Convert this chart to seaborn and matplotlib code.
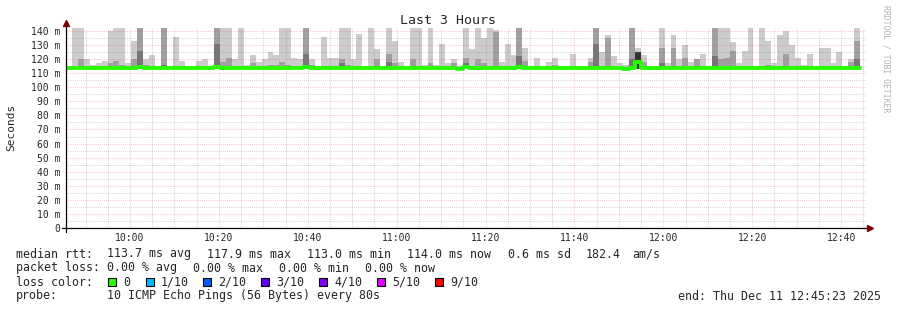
import numpy as np
import pandas as pd
import matplotlib
matplotlib.use("Agg")
import matplotlib.pyplot as plt
import seaborn as sns
from matplotlib.patches import Rectangle

sns.set_style("white")
plt.rcParams['font.family'] = ['DejaVu Sans Mono', 'DejaVu Sans']

W, H = 897, 310

# ---- data -------------------------------------------------------------
first_bucket_min = 45.62      # minutes after 09:00 of first 80 s bucket
step_min = 80 / 60            # 80 s probe interval
smoke_base = 113.0            # lowest ping (ms)

# lightest smoke (max ping, ms)
smoke_max = [115, 142, 142, 120, 116, 117, 119, 140, 142, 142,
             117, 133, 142, 120, 123, 115, 142, 115, 136, 119,
             115, 115, 119, 120, 115, 142, 142, 142, 120, 142,
             116, 123, 118, 120, 125, 123, 142, 142, 121, 120,
             142, 120, 115, 136, 121, 121, 142, 142, 120, 138,
             115, 142, 127, 115, 142, 133, 118, 115, 142, 142,
             116, 142, 116, 131, 117, 120, 115, 142, 127, 142,
             135, 142, 141, 118, 131, 123, 142, 128, 115, 121,
             115, 118, 121, 115, 115, 124, 115, 115, 121, 142,
             125, 137, 122, 117, 116, 142, 128, 123, 115, 115,
             142, 117, 137, 120, 130, 118, 120, 124, 115, 142,
             142, 142, 132, 117, 126, 142, 115, 142, 133, 117,
             137, 140, 130, 121, 116, 124, 115, 128, 128, 117,
             125, 115, 120, 142]

# middle smoke (ms), None = no visible band
N = None
smoke_mid = [N, N, 120, N, N, N, N, 117, 119, 116,
             N, 120, 142, 116, N, N, 142, N, N, N,
             N, N, N, N, N, 142, 118, 121, N, N,
             N, 117, N, N, 116, 116, 118, 116, N, N,
             142, 116, N, N, N, N, 120, 116, N, N,
             N, N, 120, N, 124, 117, N, N, 120, N,
             N, 117, N, N, N, 117, N, 121, N, 120,
             117, N, 139, N, N, N, 142, 119, N, N,
             N, N, 116, N, N, N, N, N, 118, 142,
             N, 135, N, N, N, 142, 125, 118, N, N,
             128, N, 128, N, 121, N, 120, N, N, 142,
             120, 121, 126, N, N, N, N, N, 116, N,
             N, 124, N, N, N, N, N, N, N, N,
             N, N, 118, 133]

# dark smoke core (ms)
smoke_dark = [N, N, N, N, N, N, N, N, N, N,
              N, N, 126, N, N, N, 116, N, N, N,
              N, N, N, N, N, 131, N, N, N, N,
              N, N, N, N, N, N, N, N, N, N,
              124, N, N, N, N, N, 117, N, N, N,
              N, N, N, N, 118, N, N, N, N, N,
              N, N, N, N, N, N, N, 117, N, N,
              N, N, N, N, N, N, 122, N, N, N,
              N, N, N, N, N, N, N, N, N, 131,
              N, N, N, N, N, 120, N, N, N, N,
              117, N, N, N, N, N, N, N, N, 122,
              N, N, N, N, N, N, N, N, N, N,
              N, N, N, N, N, N, N, N, N, N,
              N, N, N, 120]

# darkest core (ms)
smoke_black = [N] * 96 + [125] + [N] * 37

# median rtt (ms)
median_rtt = [113.6, 113.9, 113.9, 113.5, 113.5, 113.9, 113.9, 113.9, 113.9, 113.9,
              113.5, 114.0, 114.2, 113.9, 114.0, 113.5, 113.7, 113.9, 113.5, 113.9,
              113.5, 113.9, 114.0, 113.9, 113.5, 114.1, 113.6, 113.9, 113.6, 113.6,
              113.6, 114.0, 113.6, 113.6, 113.9, 113.6, 113.9, 113.9, 113.5, 114.0,
              114.2, 113.6, 113.6, 113.6, 113.9, 113.6, 113.9, 113.9, 113.6, 114.0,
              113.6, 113.6, 113.9, 113.6, 114.0, 113.9, 113.6, 113.5, 113.9, 113.9,
              113.6, 113.6, 113.9, 113.6, 113.9, 113.6, 113.3, 114.1, 113.7, 113.9,
              113.7, 114.0, 113.9, 113.6, 113.9, 113.6, 114.1, 113.9, 113.6, 113.9,
              113.6, 113.6, 113.9, 113.6, 113.4, 113.9, 113.6, 113.9, 113.9, 114.0,
              113.9, 113.6, 113.9, 113.6, 113.3, 113.9, 118.0, 113.9, 113.4, 113.6,
              113.9, 113.9, 113.6, 113.9, 113.9, 113.6, 113.9, 113.6, 113.9, 113.6,
              113.9, 113.9, 113.9, 113.6, 113.9, 113.6, 113.9, 113.9, 113.6, 113.9,
              113.9, 113.9, 113.9, 113.9, 113.9, 113.9, 113.9, 113.9, 113.9, 113.4,
              113.4, 113.9, 113.9, 114.0]

y_ticks = [0, 10, 20, 30, 40, 50, 60, 70, 80, 90, 100, 110, 120, 130, 140]
y_tick_labels = ["0", "10 m", "20 m", "30 m", "40 m", "50 m", "60 m", "70 m",
                 "80 m", "90 m", "100 m", "110 m", "120 m", "130 m", "140 m"]
x_tick_minutes = [60, 80, 100, 120, 140, 160, 180, 200, 220]
x_tick_labels = ["10:00", "10:20", "10:40", "11:00", "11:20", "11:40",
                 "12:00", "12:20", "12:40"]
x_range = (45.6, 225.6)
y_range = (0, 142.13)

loss_colors = ["#26ff00", "#00b8ff", "#0059ff", "#5e00ff", "#7e00ff", "#dd00ff", "#ff0000"]
loss_labels = ["0", "1/10", "2/10", "3/10", "4/10", "5/10", "9/10"]

# ---- figure -----------------------------------------------------------
fig = plt.figure(figsize=(W / 100, H / 100), dpi=100)
fig.patch.set_facecolor("white")
L, R, T, B = 66, 866, 28, 228
ax = fig.add_axes([L / W, 1 - B / H, (R - L) / W, (B - T) / H])
ax.set_facecolor("white")

n = len(smoke_max)
centers = first_bucket_min + step_min * (np.arange(n) + 0.5)


def smoke_layer(vals, color, z):
    tops = [smoke_base if v is None else v for v in vals]
    df = pd.DataFrame({"t": centers, "top": tops})
    df["h"] = df["top"] - smoke_base
    sns.barplot(data=df, x="t", y="h", native_scale=True, orient="x", width=1.0,
                color=color, saturation=1, errorbar=None, bottom=smoke_base,
                linewidth=0, edgecolor="none", ax=ax, zorder=z)


smoke_layer(smoke_max, "#cccccc", 1.0)
smoke_layer(smoke_mid, "#a0a0a0", 1.1)
smoke_layer(smoke_dark, "#777777", 1.2)
smoke_layer(smoke_black, "#333333", 1.3)

# grid (drawn over the smoke, as rrdtool does)
dot = (0, (1, 1))
major_c = (1, 0.25, 0.25, 0.28)
minor_c = (0.5, 0.5, 0.5, 0.32)
for m in range(50, 226, 5):
    if m % 20 == 0:
        ax.axvline(m, color=major_c, lw=0.75, ls=dot, zorder=2.5)
    else:
        ax.axvline(m, color=minor_c, lw=0.75, ls=dot, zorder=2.4)
for v in range(5, 142, 5):
    if v % 10 == 0:
        ax.axhline(v, color=major_c, lw=0.75, ls=dot, zorder=2.5)
    else:
        ax.axhline(v, color=minor_c, lw=0.75, ls=dot, zorder=2.4)

# median line
edges = first_bucket_min + step_min * np.arange(n + 1)
med_ext = list(median_rtt) + [median_rtt[-1]]
sns.lineplot(x=edges, y=med_ext, drawstyle="steps-post", estimator=None, sort=False,
             color="#26ff00", linewidth=2.8, ax=ax, zorder=4)

ax.set_xlim(*x_range)
ax.set_ylim(*y_range)
ax.set_xlabel("")
ax.set_ylabel("")
for s in ax.spines.values():
    s.set_visible(False)
ax.set_yticks(y_ticks)
ax.set_yticklabels(y_tick_labels, fontsize=7)
ax.set_xticks(x_tick_minutes)
ax.set_xticklabels(x_tick_labels, fontsize=7)
ax.tick_params(axis="y", length=0, pad=4.3)
ax.tick_params(axis="x", length=0, pad=3.5)

# axes lines with arrows
ax.plot([-4 / 800, 1 + 2 / 800], [0, 0], transform=ax.transAxes, color="black",
        lw=0.9, clip_on=False, zorder=5)
ax.plot([0, 0], [-4 / 200, 1 + 3 / 200], transform=ax.transAxes, color="black",
        lw=0.9, clip_on=False, zorder=5)
ax.plot([1 + 4 / 800], [0], marker=">", ms=4.5, color="#7f0000", transform=ax.transAxes,
        clip_on=False, zorder=6)
ax.plot([0], [1 + 5 / 200], marker="^", ms=4.5, color="#7f0000", transform=ax.transAxes,
        clip_on=False, zorder=6)

# texts
def ftext(x, y, s, **kw):
    fig.text(x / W, 1 - y / H, s, **kw)

ftext(448, 20, "Last 3 Hours", ha="center", va="center", fontsize=9.5)
ftext(11, 127, "Seconds", ha="center", va="center", rotation=90, fontsize=8)
ftext(886, 5, "RRDTOOL / TOBI OETIKER", ha="center", va="top", rotation=270,
      fontsize=5.9, color="#b4b4b4")

fs = 8.4
ftext(16, 254, "median rtt:", va="center", fontsize=fs)
for x, s in [(107, "113.7 ms avg"), (207, "117.9 ms max"), (307, "113.0 ms min"),
             (407, "114.0 ms now"), (508, "0.6 ms sd"), (586, "182.4"), (632, "am/s")]:
    ftext(x, 254, s, va="center", fontsize=fs)
ftext(16, 268, "packet loss:", va="center", fontsize=fs)
for x, s in [(107, "0.00 % avg"), (193, "0.00 % max"), (279, "0.00 % min"),
             (365, "0.00 % now")]:
    ftext(x, 268, s, va="center", fontsize=fs)
ftext(16, 282, "loss color:", va="center", fontsize=fs)
box_x = [108, 146, 203, 261, 319, 377, 435]
for bx, c, lab in zip(box_x, loss_colors, loss_labels):
    fig.add_artist(Rectangle((bx / W, 1 - 286 / H), 8 / W, 8 / H, transform=fig.transFigure,
                             facecolor=c, edgecolor="black", lw=0.8))
    ftext(bx + 15, 282, lab, va="center", fontsize=fs)
ftext(16, 296, "probe:", va="center", fontsize=fs)
ftext(107, 296, "10 ICMP Echo Pings (56 Bytes) every 80s", va="center", fontsize=fs)
ftext(678, 296, "end: Thu Dec 11 12:45:23 2025", va="center", fontsize=fs)

fig.savefig("out.png", dpi=100, facecolor="white")
